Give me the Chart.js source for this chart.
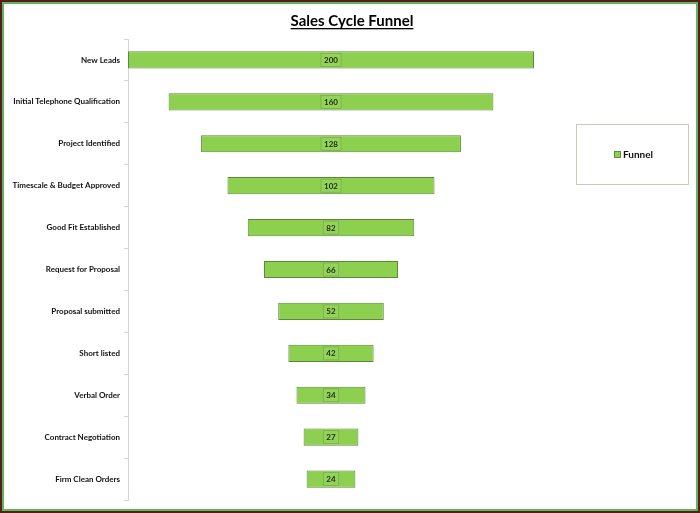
<!DOCTYPE html>
<html>
<head>
<meta charset="utf-8">
<script src="https://cdn.jsdelivr.net/npm/chart.js@4/dist/chart.umd.min.js"></script>
<style>
  html, body { margin: 0; padding: 0; background: #fff; }
  #frame {
    width: 700px; height: 513px; box-sizing: border-box;
    border: 2px solid #5b1c1c;
    box-shadow: inset 0 0 0 2px #5cb85c;
    position: relative;
  }
  #myChart { position: absolute; left: 2px; top: 2px; }
</style>
</head>
<body>
<div id="frame"><canvas id="myChart" width="696" height="509"></canvas></div>
<script>
var stages = ['New Leads', 'Initial Telephone Qualification', 'Project Identified',
    'Timescale & Budget Approved', 'Good Fit Established', 'Request for Proposal',
    'Proposal submitted', 'Short listed', 'Verbal Order', 'Contract Negotiation',
    'Firm Clean Orders'];
var counts = [200, 160, 128, 102, 82, 66, 52, 42, 34, 27, 24];
var seriesName = 'Funnel';
var chartTitle = 'Sales Cycle Funnel';

var labelFont = 'bold 8px Lato, "DejaVu Sans", sans-serif';

// title, legend box and value labels
var extras = {
    id: 'extras',
    afterDraw: function (chart) {
        var ctx = chart.ctx;
        ctx.save();
        // title with underline
        ctx.font = 'bold 15px Lato, "Open Sans", sans-serif';
        ctx.fillStyle = '#000';
        ctx.textAlign = 'center';
        ctx.textBaseline = 'alphabetic';
        var tx = 348, ty = 22;
        ctx.fillText(chartTitle, tx, ty);
        var w = ctx.measureText(chartTitle).width;
        ctx.fillRect(tx - w / 2, ty + 2, w, 1.3);

        // value labels in the middle of each bar
        var meta = chart.getDatasetMeta(0);
        meta.data.forEach(function (bar, i) {
            var cx = (bar.x + bar.base) / 2;
            var txt = String(counts[i]);
            ctx.font = labelFont;
            var tw = ctx.measureText(txt).width;
            var bw = tw + 6, bh = 13;
            ctx.fillStyle = '#93d35a';
            ctx.fillRect(cx - bw / 2, bar.y - bh / 2, bw, bh);
            ctx.strokeStyle = '#79b04a';
            ctx.lineWidth = 0.8;
            ctx.strokeRect(cx - bw / 2, bar.y - bh / 2, bw, bh);
            ctx.fillStyle = '#1e2a12';
            ctx.textAlign = 'center';
            ctx.textBaseline = 'middle';
            ctx.fillText(txt, cx, bar.y + 0.5);
        });

        // legend box
        ctx.strokeStyle = '#c9c9b4';
        ctx.lineWidth = 1;
        ctx.strokeRect(572.5, 120.5, 112, 60);
        ctx.fillStyle = '#8dcf4f';
        ctx.fillRect(610, 147, 7, 7);
        ctx.strokeStyle = '#5f8f38';
        ctx.strokeRect(610.5, 147.5, 6, 6);
        ctx.fillStyle = '#111';
        ctx.font = 'bold 10px Lato, "Open Sans", sans-serif';
        ctx.textAlign = 'left';
        ctx.textBaseline = 'middle';
        ctx.fillText(seriesName, 619, 151);
        ctx.restore();
    }
};

var ctx = document.getElementById('myChart').getContext('2d');
var myChart = new Chart(ctx, {
    type: 'bar',
    data: {
        labels: stages,
        datasets: [{
            label: seriesName,
            data: counts.map(function (v) { return [-v / 2, v / 2]; }),
            backgroundColor: '#8dcf4f',
            borderColor: '#5a8a34',
            borderWidth: 1,
            borderSkipped: false,
            barPercentage: 0.41,
            categoryPercentage: 1
        }]
    },
    options: {
        indexAxis: 'y',
        responsive: false,
        animation: false,
        layout: { padding: { left: 0, right: 166, top: 35, bottom: 13 } },
        plugins: {
            legend: { display: false },
            title: { display: false },
            tooltip: { enabled: false }
        },
        scales: {
            x: { display: false, min: -100, max: 100 },
            y: {
                afterFit: function (s) { s.width = 124; },
                grid: {
                    drawOnChartArea: false,
                    tickLength: 4,
                    color: '#d4d4d4'
                },
                border: { color: '#d4d4d4' },
                ticks: {
                    padding: 4,
                    color: '#111',
                    font: { family: 'Lato, "DejaVu Sans", sans-serif', size: 8, weight: 'bold' }
                }
            }
        }
    },
    plugins: [extras]
});
</script>
</body>
</html>
